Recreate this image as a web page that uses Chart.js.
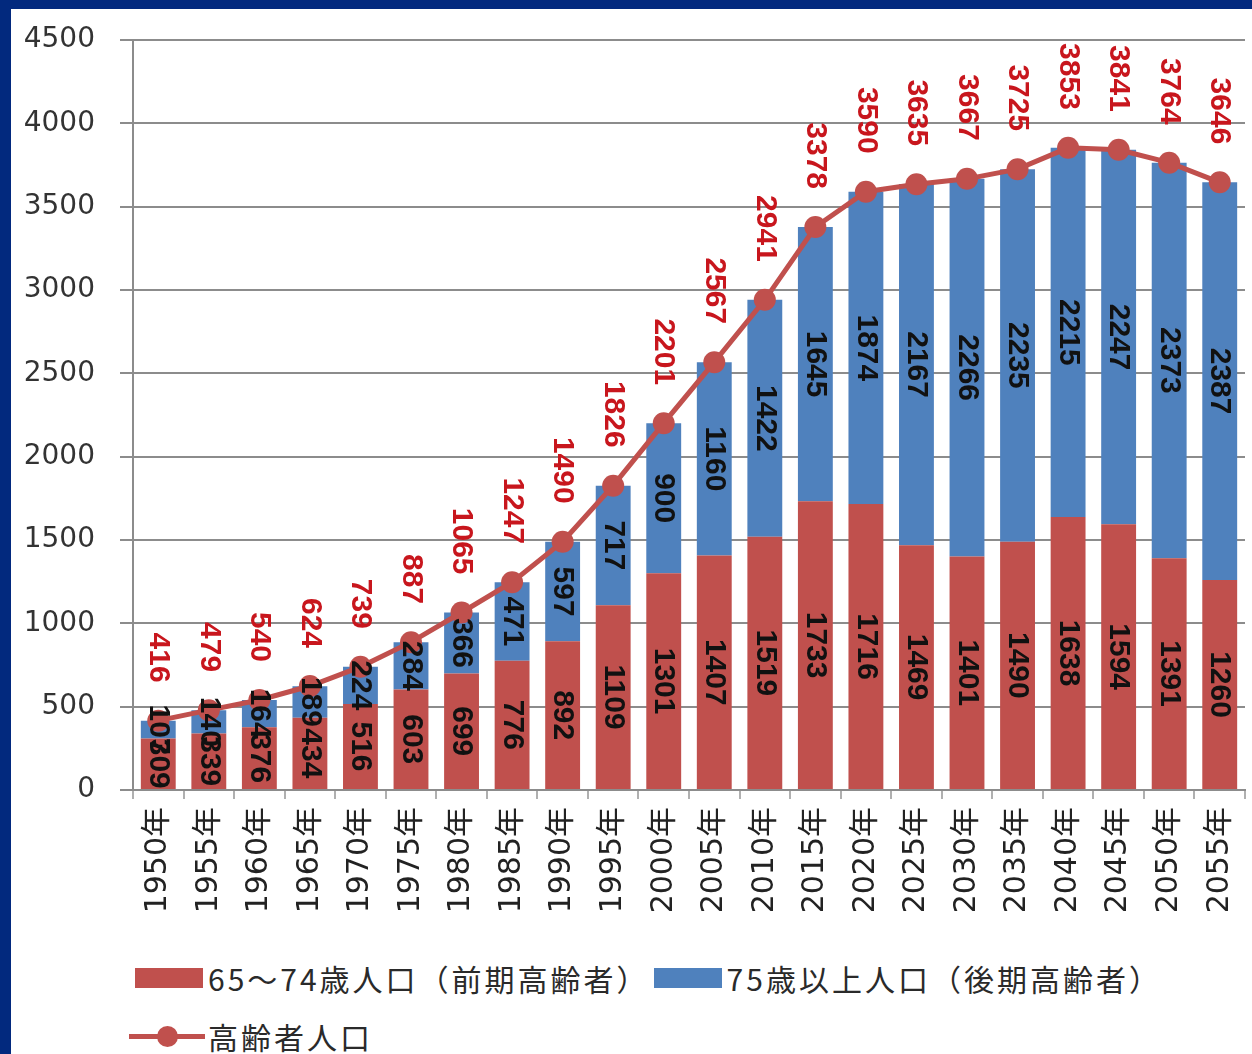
<!DOCTYPE html>
<html>
<head>
<meta charset="utf-8">
<script src="https://cdn.jsdelivr.net/npm/chart.js@4.4.0/dist/chart.umd.min.js"></script>
<style>
  html, body { margin: 0; padding: 0; width: 1252px; height: 1054px; overflow: hidden; background: #02297e; }
  #panel { position: absolute; left: 11px; top: 9px; width: 1241px; height: 1045px; background: #fff; }
  #wrap { position: absolute; left: 0; top: 0; width: 1241px; height: 921px; }
  #legend { position: absolute; left: 124px; top: 948px; font-family: "Noto Sans CJK JP", sans-serif;
    font-size: 30px; color: #2a2a2a; letter-spacing: 3px; }
  .row { display: flex; align-items: center; height: 42px; margin-bottom: 16px; }
  .item { display: flex; align-items: center; margin-right: 4px; }
  .box { width: 68px; height: 20px; margin-right: 5px; }
  .ln { position: relative; width: 76px; height: 5px; margin-right: 3px; margin-left: -6px; }
  .ln i { position: absolute; left: 28px; top: -8px; width: 21px; height: 21px; border-radius: 50%; }
</style>
</head>
<body>
<div id="panel">
  <div id="wrap"><canvas id="c"></canvas></div>
  <div id="legend"></div>
</div>
<script>
// categories
const years = ["1950年", "1955年", "1960年", "1965年", "1970年", "1975年", "1980年", "1985年",
  "1990年", "1995年", "2000年", "2005年", "2010年", "2015年", "2020年", "2025年", "2030年",
  "2035年", "2040年", "2045年", "2050年", "2055年"];
// 65~74歳人口（前期高齢者）
const early = [309, 339, 376, 434, 516, 603, 699, 776, 892, 1109, 1301, 1407, 1519, 1733,
  1716, 1469, 1401, 1490, 1638, 1594, 1391, 1260];
// 75歳以上人口（後期高齢者）
const late = [107, 140, 164, 189, 224, 284, 366, 471, 597, 717, 900, 1160, 1422, 1645,
  1874, 2167, 2266, 2235, 2215, 2247, 2373, 2387];
// 高齢者人口
const total = [416, 479, 540, 624, 739, 887, 1065, 1247, 1490, 1826, 2201, 2567, 2941, 3378,
  3590, 3635, 3667, 3725, 3853, 3841, 3764, 3646];
const yTicks = [0, 500, 1000, 1500, 2000, 2500, 3000, 3500, 4000, 4500];

const RED = "#c0504d", BLUE = "#4f81bd", LABEL_RED = "#c8161d", GRID = "#8c8c8c";

// vertical (rotated clockwise) value labels
const vLabels = {
  id: "vlabels",
  afterDatasetsDraw(chart) {
    const ctx = chart.ctx;
    chart.data.datasets.forEach(function (ds, i) {
      const meta = chart.getDatasetMeta(i);
      meta.data.forEach(function (el, j) {
        ctx.save();
        ctx.font = "bold 30px 'Liberation Sans', sans-serif";
        ctx.textBaseline = "middle";
        if (meta.type === "bar") {
          ctx.translate(el.x, (el.y + el.base) / 2);
          ctx.rotate(Math.PI / 2);
          ctx.textAlign = "center";
          ctx.fillStyle = "#111";
          ctx.fillText(String(ds.data[j]), 0, 0);
        } else {
          ctx.translate(el.x, el.y);
          ctx.rotate(Math.PI / 2);
          ctx.textAlign = "right";
          ctx.fillStyle = LABEL_RED;
          ctx.fillText(String(ds.data[j]), -38, 0);
        }
        ctx.restore();
      });
    });
  }
};

const chart = new Chart(document.getElementById("c"), {
  type: "bar",
  data: {
    labels: years,
    datasets: [
      { type: "line", label: "高齢者人口", data: total, stack: "tot",
        borderColor: RED, backgroundColor: RED, borderWidth: 5, tension: 0,
        pointRadius: 11, pointBackgroundColor: RED, pointBorderWidth: 0, order: 0 },
      { label: "65～74歳人口（前期高齢者）", data: early, backgroundColor: RED, stack: "s", order: 1,
        categoryPercentage: 1, barPercentage: 0.69 },
      { label: "75歳以上人口（後期高齢者）", data: late, backgroundColor: BLUE, stack: "s", order: 2,
        categoryPercentage: 1, barPercentage: 0.69 }
    ]
  },
  options: {
    responsive: true, maintainAspectRatio: false, animation: false,
    layout: { autoPadding: false, padding: { top: 31, right: 7, left: 0, bottom: 0 } },
    plugins: { legend: { display: false }, tooltip: { enabled: false } },
    scales: {
      x: {
        stacked: true,
        grid: { drawOnChartArea: false, color: "#b0b0b0", lineWidth: 2, tickLength: 9 },
        border: { color: GRID, width: 2 },
        ticks: { minRotation: 90, maxRotation: 90, padding: 8, color: "#222",
          font: { family: "'DejaVu Sans', 'Noto Sans CJK JP'", size: 30 } },
        afterFit: function (s) { s.height = 140; s.paddingLeft = 0; s.paddingRight = 0; }
      },
      y: {
        stacked: true, min: 0, max: 4500,
        afterBuildTicks: function (s) { s.ticks = yTicks.map(function (v) { return { value: v }; }); },
        grid: { color: GRID, lineWidth: 2, tickLength: 13 },
        border: { color: GRID, width: 2 },
        ticks: { padding: 25, color: "#333", callback: function (v) { return String(v); },
          font: { family: "'DejaVu Sans'", size: 28 } },
        afterFit: function (s) { s.width = 122; s.paddingTop = 0; s.paddingBottom = 0; }
      }
    }
  },
  plugins: [vLabels]
});

// legend built from the datasets
(function () {
  const lg = document.getElementById("legend");
  const ds = chart.data.datasets;
  const r1 = document.createElement("div"); r1.className = "row";
  [ds[1], ds[2]].forEach(function (d) {
    const it = document.createElement("div"); it.className = "item";
    it.innerHTML = '<span class="box" style="background:' + d.backgroundColor + '"></span><span>' + d.label + '</span>';
    r1.appendChild(it);
  });
  const r2 = document.createElement("div"); r2.className = "row";
  const it = document.createElement("div"); it.className = "item";
  it.innerHTML = '<span class="ln" style="background:' + ds[0].borderColor + '"><i style="background:' +
    ds[0].borderColor + '"></i></span><span>' + ds[0].label + '</span>';
  r2.appendChild(it);
  lg.appendChild(r1); lg.appendChild(r2);
})();
</script>
</body>
</html>
